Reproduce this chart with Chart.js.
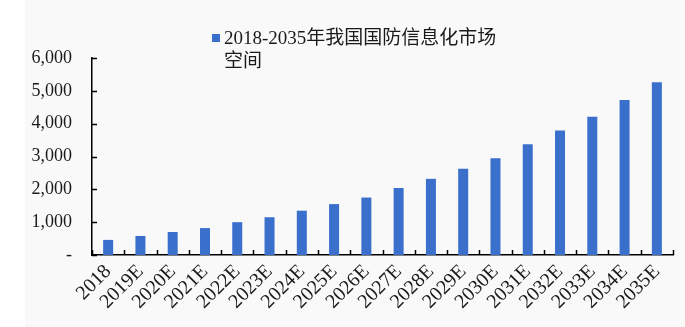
<!DOCTYPE html>
<html>
<head>
<meta charset="utf-8">
<script src="https://cdn.jsdelivr.net/npm/chart.js@4/dist/chart.umd.min.js"></script>
<style>
  html, body { margin: 0; padding: 0; }
  body { width: 685px; height: 327px; overflow: hidden;
         background: linear-gradient(to right, #ffffff 0, #ffffff 25px, #f9f9f9 25px); }
  canvas { display: block; }
</style>
</head>
<body>
<canvas id="chart" width="685" height="327"></canvas>
<script>
var years = ['2018', '2019E', '2020E', '2021E', '2022E', '2023E', '2024E', '2025E', '2026E',
             '2027E', '2028E', '2029E', '2030E', '2031E', '2032E', '2033E', '2034E', '2035E'];
var market_size = [460, 580, 700, 820, 1000, 1150, 1350, 1550, 1750,
                   2040, 2320, 2630, 2950, 3370, 3790, 4210, 4720, 5260];
var series_label = '2018-2035年我国国防信息化市场空间';
var y_ticks = [0, 1000, 2000, 3000, 4000, 5000, 6000];

var bar_color = '#3a6fcc';
var text_font = "'Liberation Serif', 'Noto Sans CJK SC', serif";

// small inward tick marks, like the original excel chart
var innerTicks = {
    id: 'innerTicks',
    afterDatasetsDraw: function(chart){
        var ctx = chart.ctx;
        var area = chart.chartArea;
        var y = chart.scales.y;
        ctx.save();
        ctx.strokeStyle = '#000';
        ctx.lineWidth = 1.5;
        ctx.beginPath();
        y_ticks.forEach(function(v){
            var py = Math.round(y.getPixelForValue(v)) + 0.5;
            ctx.moveTo(area.left, py);
            ctx.lineTo(area.left + 5, py);
        });
        var step = (area.right - area.left) / years.length;
        for (var i = 0; i <= years.length; i++) {
            var px = Math.round(area.left + i * step) + 0.5;
            ctx.moveTo(px, area.bottom);
            ctx.lineTo(px, area.bottom - 5);
        }
        ctx.stroke();
        ctx.restore();
    }
};

// legend sits over the top of the plot, wrapped on two lines
var wrappedLegend = {
    id: 'wrappedLegend',
    afterDraw: function(chart){
        var ctx = chart.ctx;
        var label = chart.data.datasets[0].label;
        var line1 = label.slice(0, label.length - 2);
        var line2 = label.slice(label.length - 2);
        ctx.save();
        ctx.fillStyle = bar_color;
        ctx.fillRect(212, 34, 8, 8);
        ctx.fillStyle = '#1a1a1a';
        ctx.font = '19px ' + text_font;
        ctx.textBaseline = 'middle';
        ctx.textAlign = 'left';
        ctx.fillText(line1, 224, 39);
        ctx.fillText(line2, 224, 62);
        ctx.restore();
    }
};

var chart = new Chart(document.getElementById('chart'), {
    type: 'bar',
    data: {
        labels: years,
        datasets: [{
            label: series_label,
            data: market_size,
            backgroundColor: bar_color,
            categoryPercentage: 1,
            barPercentage: 0.31
        }]
    },
    options: {
        responsive: false,
        animation: false,
        layout: { padding: { top: 58, right: 12, left: 0, bottom: 0 } },
        plugins: {
            legend: { display: false },
            tooltip: { enabled: false }
        },
        scales: {
            x: {
                grid: { display: false, drawTicks: false },
                border: { display: true, color: '#000', width: 1.5 },
                ticks: {
                    color: '#1a1a1a',
                    font: { family: text_font, size: 20 },
                    minRotation: 45,
                    maxRotation: 45,
                    padding: 5,
                    autoSkip: false
                },
                afterFit: function(scale){ scale.height = 72; }
            },
            y: {
                min: 0,
                max: 6000,
                afterBuildTicks: function(scale){
                    scale.ticks = y_ticks.map(function(v){ return { value: v }; });
                },
                grid: { display: false, drawTicks: false },
                border: { display: true, color: '#000', width: 1.5 },
                ticks: {
                    color: '#1a1a1a',
                    font: { family: text_font, size: 18 },
                    padding: 20,
                    callback: function(v){
                        return v === 0 ? '-' : v.toLocaleString('en-US');
                    }
                },
                afterFit: function(scale){ scale.width = 92; }
            }
        }
    },
    plugins: [innerTicks, wrappedLegend]
});
</script>
</body>
</html>
